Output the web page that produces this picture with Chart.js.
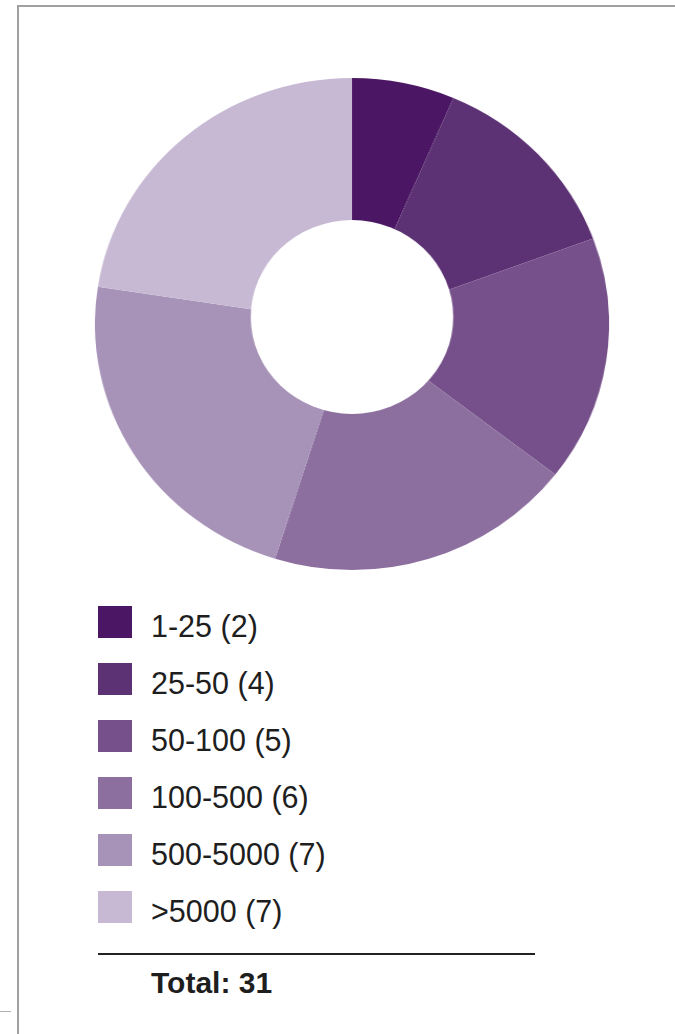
<!DOCTYPE html>
<html>
<head>
<meta charset="utf-8">
<script src="https://cdn.jsdelivr.net/npm/chart.js@4.4.1/dist/chart.umd.min.js"></script>
<style>
  html, body { margin: 0; padding: 0; background: #fff; }
  body { width: 675px; height: 1034px; position: relative; overflow: hidden;
         font-family: "Liberation Sans", Arial, sans-serif; color: #1e1e1e; }
  #frame { position: absolute; left: 17px; top: 5px; width: 700px; height: 1100px;
           border-left: 2px solid #a0a0a0; border-top: 2px solid #a0a0a0; box-sizing: border-box; }
  #tick { position: absolute; left: 0; top: 1011px; width: 11px; height: 1px; background: #b0b0b0; }
  #chartWrap { position: absolute; left: 105.5px; top: 78px; width: 492px; height: 492px;
               transform: scaleX(1.045); transform-origin: 246px 246px; }
  #legend { position: absolute; left: 98px; top: 606px; }
  .item { position: relative; height: 57px; }
  .box { position: absolute; left: 0; top: 0; width: 34px; height: 32px; }
  .lbl { position: absolute; left: 53px; top: 2px; font-size: 30.5px; line-height: 36px; white-space: nowrap; }
  #rule { position: absolute; left: 98px; top: 953px; width: 437px; height: 2px; background: #222; }
  #total { position: absolute; left: 151px; top: 966px; font-size: 30px; font-weight: bold; line-height: 34px; }
</style>
</head>
<body>
<div id="frame"></div>
<div id="tick"></div>
<div id="chartWrap"><canvas id="c" width="492" height="492"></canvas></div>
<div id="legend"></div>
<div id="rule"></div>
<div id="total"></div>
<script>
const categories = ["1-25", "25-50", "50-100", "100-500", "500-5000", ">5000"];
const counts = [2, 4, 5, 6, 7, 7];
const colors = ["#4b1764", "#5d3274", "#76508a", "#8c6f9e", "#a792b8", "#c7b9d3"];

// the centre hole of the reference sits slightly above the ring's centre
const offsetHole = {
  id: "offsetHole",
  afterDatasetsDraw(chart) {
    const arc = chart.getDatasetMeta(0).data[0];
    if (!arc) return;
    const ctx = chart.ctx;
    ctx.save();
    ctx.fillStyle = "#ffffff";
    ctx.beginPath();
    ctx.arc(arc.x, arc.y - 7, arc.outerRadius * 0.394, 0, Math.PI * 2);
    ctx.fill();
    ctx.restore();
  }
};

const chart = new Chart(document.getElementById("c"), {
  type: "doughnut",
  data: {
    labels: categories,
    datasets: [{ data: counts, backgroundColor: colors, borderWidth: 0, hoverOffset: 0 }]
  },
  options: {
    responsive: false,
    animation: false,
    cutout: "25%",
    layout: { padding: 0 },
    plugins: { legend: { display: false }, tooltip: { enabled: false } }
  },
  plugins: [offsetHole]
});

const legend = document.getElementById("legend");
categories.forEach((cat, i) => {
  const item = document.createElement("div");
  item.className = "item";
  const box = document.createElement("div");
  box.className = "box";
  box.style.background = colors[i];
  const lbl = document.createElement("div");
  lbl.className = "lbl";
  lbl.textContent = cat + " (" + counts[i] + ")";
  item.appendChild(box);
  item.appendChild(lbl);
  legend.appendChild(item);
});
document.getElementById("total").textContent = "Total: " + counts.reduce((a, b) => a + b, 0);
</script>
</body>
</html>
